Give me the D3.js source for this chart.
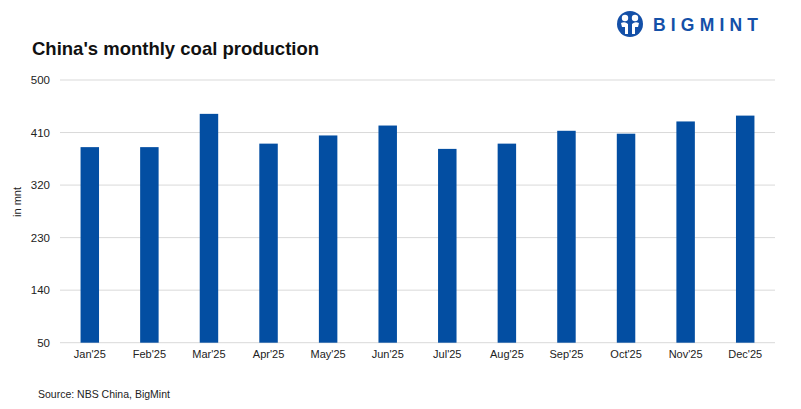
<!DOCTYPE html>
<html><head><meta charset="utf-8">
<script src="https://cdn.jsdelivr.net/npm/d3@7"></script>
<style>body{margin:0;background:#fff;}svg{display:block;font-family:"Liberation Sans",Arial,sans-serif;}</style>
</head><body>
<svg id="c" width="801" height="409"></svg>
<script>
const months = ["Jan'25","Feb'25","Mar'25","Apr'25","May'25","Jun'25","Jul'25","Aug'25","Sep'25","Oct'25","Nov'25","Dec'25"];
const production = [385, 385, 442, 391, 405, 422, 382, 391, 413, 408, 429, 439];
const yTicks = [50, 140, 230, 320, 410, 500];

const svg = d3.select("#c");
const m = {left:60, right:26, top:80, bottom:66};
const W = 801, H = 409;
const x = d3.scaleBand().domain(months).range([m.left, W - m.right]).paddingInner(0.69).paddingOuter(0.345);
const y = d3.scaleLinear().domain([50, 500]).range([342.7, 80]);

// gridlines
svg.append("g").selectAll("line").data(yTicks).join("line")
  .attr("x1", m.left).attr("x2", W - m.right)
  .attr("y1", d => y(d)).attr("y2", d => y(d))
  .attr("stroke", "#d9d9d9").attr("stroke-width", 1);

// y axis labels
const ya = svg.append("g").attr("transform", `translate(${m.left},0)`)
  .call(d3.axisLeft(y).tickValues(yTicks).tickSize(0).tickPadding(10));
ya.select(".domain").remove();
ya.selectAll("text").attr("font-size", 11.5).attr("fill", "#222").attr("font-family", "Liberation Sans, Arial, sans-serif");

// bars
svg.append("g").selectAll("rect").data(production).join("rect")
  .attr("x", (d,i) => x(months[i]))
  .attr("width", x.bandwidth())
  .attr("y", d => y(d))
  .attr("height", d => y(50) - y(d))
  .attr("fill", "#034ea2");

// x axis
const xa = svg.append("g").attr("transform", `translate(0,${y(50)})`)
  .call(d3.axisBottom(x).tickSize(0).tickPadding(8));
xa.select(".domain").remove();
xa.selectAll("text").attr("font-size", 11).attr("fill", "#222").attr("font-family", "Liberation Sans, Arial, sans-serif");

// y axis title
svg.append("text").attr("transform", "translate(21,202) rotate(-90)")
  .attr("text-anchor", "middle").attr("font-size", 11).attr("fill", "#222").text("in mnt");

// title
svg.append("text").attr("x", 32).attr("y", 55).attr("font-size", 18.5).attr("font-weight", "bold")
  .attr("fill", "#111").text("China's monthly coal production");

// source
svg.append("text").attr("x", 38).attr("y", 398).attr("font-size", 10.5).attr("fill", "#222")
  .text("Source: NBS China, BigMint");

// logo
const lg = svg.append("g").attr("transform", "translate(630,24)");
lg.append("circle").attr("r", 13).attr("fill", "#1450a8");
lg.append("circle").attr("cx", -5).attr("cy", -6).attr("r", 3.2).attr("fill", "#fff");
lg.append("circle").attr("cx", 5).attr("cy", -6).attr("r", 3.2).attr("fill", "#fff");
lg.append("path").attr("d", "M-9,-1 Q-5,-3 -2,0 L-2,10 L-5,10 L-5,3 L-8,3 Z").attr("fill", "#fff");
lg.append("path").attr("d", "M9,-1 Q5,-3 2,0 L2,10 L5,10 L5,3 L8,3 Z").attr("fill", "#fff");
svg.append("text").attr("x", 653).attr("y", 30.5).attr("font-size", 17.5).attr("font-weight", "bold")
  .attr("textLength", 105).attr("lengthAdjust", "spacing").attr("fill", "#1450a8").text("BIGMINT");
</script>
</body></html>
